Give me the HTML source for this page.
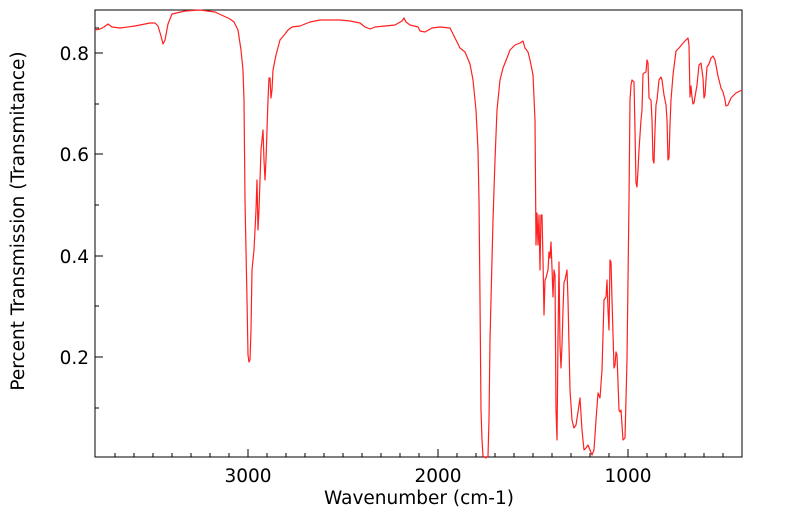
<!DOCTYPE html>
<html><head><meta charset="utf-8"><style>body{margin:0;background:#fff}svg text{font-family:"DejaVu Sans","Liberation Sans",sans-serif;fill:#000}</style></head><body>
<svg width="799" height="516" xmlns="http://www.w3.org/2000/svg">
<rect x="95" y="10" width="647" height="447" fill="none" stroke="#000" stroke-width="1"/>
<g stroke="#000" stroke-width="1">
<line x1="95" y1="53" x2="103" y2="53"/><line x1="95" y1="154" x2="103" y2="154"/><line x1="95" y1="256" x2="103" y2="256"/><line x1="95" y1="357" x2="103" y2="357"/>
<line x1="95" y1="104" x2="99" y2="104"/><line x1="95" y1="205" x2="99" y2="205"/><line x1="95" y1="306" x2="99" y2="306"/><line x1="95" y1="408" x2="99" y2="408"/><line x1="95" y1="28" x2="99" y2="28"/>
<line x1="248" y1="457" x2="248" y2="449"/><line x1="438" y1="457" x2="438" y2="449"/><line x1="628" y1="457" x2="628" y2="449"/>
<line x1="115" y1="457" x2="115" y2="453"/><line x1="134" y1="457" x2="134" y2="453"/><line x1="153" y1="457" x2="153" y2="453"/><line x1="172" y1="457" x2="172" y2="453"/><line x1="191" y1="457" x2="191" y2="453"/><line x1="210" y1="457" x2="210" y2="453"/><line x1="229" y1="457" x2="229" y2="453"/>
<line x1="267" y1="457" x2="267" y2="453"/><line x1="286" y1="457" x2="286" y2="453"/><line x1="305" y1="457" x2="305" y2="453"/><line x1="324" y1="457" x2="324" y2="453"/><line x1="343" y1="457" x2="343" y2="453"/><line x1="362" y1="457" x2="362" y2="453"/><line x1="381" y1="457" x2="381" y2="453"/><line x1="400" y1="457" x2="400" y2="453"/><line x1="419" y1="457" x2="419" y2="453"/>
<line x1="457" y1="457" x2="457" y2="453"/><line x1="476" y1="457" x2="476" y2="453"/><line x1="495" y1="457" x2="495" y2="453"/><line x1="514" y1="457" x2="514" y2="453"/><line x1="533" y1="457" x2="533" y2="453"/><line x1="552" y1="457" x2="552" y2="453"/><line x1="571" y1="457" x2="571" y2="453"/><line x1="590" y1="457" x2="590" y2="453"/><line x1="609" y1="457" x2="609" y2="453"/>
<line x1="647" y1="457" x2="647" y2="453"/><line x1="666" y1="457" x2="666" y2="453"/><line x1="685" y1="457" x2="685" y2="453"/><line x1="704" y1="457" x2="704" y2="453"/><line x1="723" y1="457" x2="723" y2="453"/>
</g>
<g font-size="18.5" text-anchor="end">
<text x="89" y="60">0.8</text><text x="89" y="161">0.6</text><text x="89" y="263">0.4</text><text x="89" y="364">0.2</text>
</g>
<g font-size="18.5" text-anchor="middle">
<text x="248" y="482">3000</text><text x="438" y="482">2000</text><text x="628" y="482">1000</text>
<text x="419" y="504">Wavenumber (cm-1)</text>
<text transform="translate(24,221) rotate(-90)">Percent Transmission (Transmitance)</text>
</g>
<polyline fill="none" stroke="#ff2020" stroke-width="1.2" stroke-linejoin="round" points="95,30 100,29 104,27 108,24 112,27 120,28 135,26 150,23 155,23 158,26 161,36 163,44 165,40 168,24 172,14 185,11 200,10 215,12 230,19 234,22 238,30 241,50 243,70 244,100 245,200 247,300 248,355 249,362 250,360 251,330 252,270 254,250 256,210 257,180 258,230 259,210 261,150 263,130 264,160 265,180 266,160 268,100 269,78 270,78 271,98 272,90 273,70 276,55 280,40 285,34 288,30 292,27 300,26 310,22 320,20 340,20 350,21 360,23 365,27 370,29 375,27 385,26 395,25 402,21 404,18 406,22 410,25 418,27 420,31 425,32 432,28 440,27 450,28 455,38 460,48 465,52 470,64 473,80 476,110 478,150 479,200 480,300 481,410 482,440 483,456 486,458 488,456 489,420 490,340 491,300 493,220 495,160 497,110 500,80 503,68 507,58 510,50 515,45 520,43 523,41 525,48 528,52 530,60 533,75 535,120 536,245 537,213 538,245 539,215 540,270 541,215 542,215 543,260 544,315 545,280 546,278 548,270 549,252 550,258 551,242 552,268 553,297 554,270 555,275 556,410 557,440 558,340 559,262 560,345 561,368 562,345 563,310 564,282 565,280 567,270 568,300 570,390 572,420 574,428 576,425 578,412 580,398 582,430 584,450 586,448 588,445 590,450 592,455 594,450 596,420 598,393 600,398 602,370 604,300 606,297 607,280 608,310 609,330 610,260 611,262 612,300 614,368 615,365 616,352 617,355 619,410 620,412 621,410 623,440 625,438 627,360 629,200 630,100 631,85 632,80 634,82 635,130 636,183 637,187 638,170 639,150 640,135 641,120 642,110 643,74 644,73 646,72 647,60 648,63 649,98 651,100 652,120 653,160 654,163 655,130 656,105 657,100 659,80 661,77 662,80 664,95 666,105 667,120 668,160 669,158 670,125 671,100 673,75 676,51 679,48 684,42 688,38 689,45 690,97 691,86 692,97 693,104 694,103 697,85 699,65 701,63 703,78 704,98 705,95 706,80 707,67 709,64 711,58 713,56 715,60 718,76 721,88 723,92 725,100 726,106 728,105 731,98 736,93 742,90"/>
</svg>
</body></html>
